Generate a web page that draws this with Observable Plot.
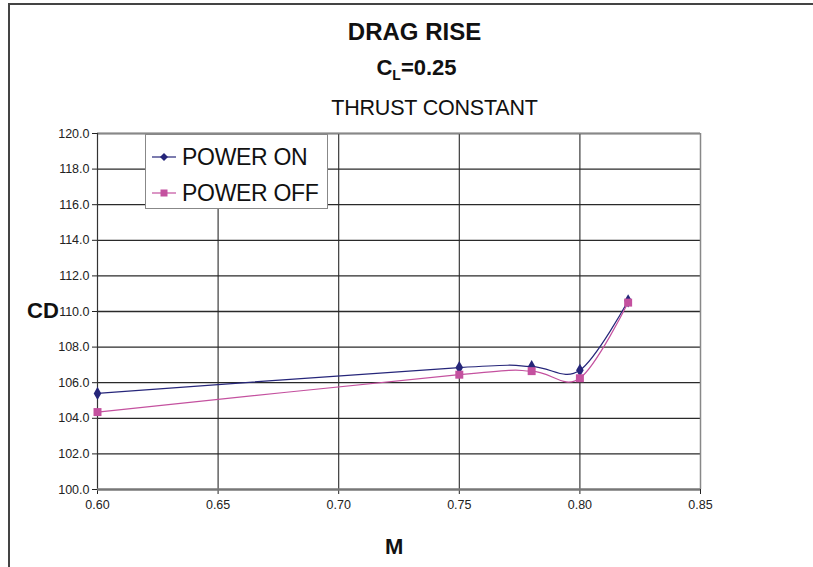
<!DOCTYPE html>
<html>
<head>
<meta charset="utf-8">
<script src="https://cdn.jsdelivr.net/npm/d3@7"></script>
<script src="https://cdn.jsdelivr.net/npm/@observablehq/plot@0.6"></script>
<style>
  html, body { margin: 0; padding: 0; background: #fff; }
  body { width: 813px; height: 567px; position: relative; overflow: hidden;
         font-family: "Liberation Sans", Arial, sans-serif; }
  #frame { position: absolute; left: 8px; top: 3px; width: 900px; height: 700px;
           border-left: 2px solid #444; border-top: 2px solid #444; }
  .t { position: absolute; left: 0; width: 813px; text-align: center; color: #111; line-height: 1; }
  #t1 { top: 20px; left: 8px; font-size: 24px; font-weight: bold; }
  #t2 { top: 57px; left: 10px; font-size: 22px; font-weight: bold; }
  #t3 { top: 98px; left: 28px; font-size: 21.5px; letter-spacing: -0.2px; }
  #ylab { position: absolute; left: 27px; top: 300px; font-size: 22px; font-weight: bold; color: #111; line-height: 1; }
  #xlab { position: absolute; left: 385px; top: 536px; font-size: 22px; font-weight: bold; color: #111; line-height: 1; }
  #chart { position: absolute; left: 0; top: 0; }
  #legend { position: absolute; left: 145px; top: 134px; width: 183px; height: 75px;
            background: #fff; border: 1px solid #888; box-sizing: border-box; }
  .li { position: absolute; left: 6px; height: 30px; display: flex; align-items: center;
        font-size: 23px; color: #111; letter-spacing: -0.3px; }
  .li svg { margin-right: 6px; }
</style>
</head>
<body>
<div id="frame"></div>
<div id="chart"></div>
<div class="t" id="t1">DRAG RISE</div>
<div class="t" id="t2">C<sub style="font-size:14px;vertical-align:-5px">L</sub>=0.25</div>
<div class="t" id="t3">THRUST CONSTANT</div>
<div id="ylab">CD</div>
<div id="xlab">M</div>
<div id="legend"></div>
<script>
// Data
const mach = [0.60, 0.75, 0.78, 0.80, 0.82];
const cdPowerOn = [105.4, 106.85, 106.9, 106.7, 110.6];
const cdPowerOff = [104.35, 106.45, 106.65, 106.25, 110.5];
const seriesNames = ["POWER ON", "POWER OFF"];
const seriesColors = ["#26267a", "#c4519f"];
const xTicks = [0.60, 0.65, 0.70, 0.75, 0.80, 0.85];
const yTicks = [100, 102, 104, 106, 108, 110, 112, 114, 116, 118, 120];

const rows = [];
mach.forEach((m, i) => rows.push({M: m, CD: cdPowerOn[i], s: seriesNames[0]}));
mach.forEach((m, i) => rows.push({M: m, CD: cdPowerOff[i], s: seriesNames[1]}));
const on = rows.filter(d => d.s === seriesNames[0]);
const off = rows.filter(d => d.s === seriesNames[1]);

const plot = Plot.plot({
  width: 813,
  height: 567,
  marginLeft: 97,
  marginRight: 113,
  marginTop: 133,
  marginBottom: 78,
  style: {fontFamily: '"Liberation Sans", Arial, sans-serif', fontSize: "12.5px", color: "#222", background: "transparent"},
  x: {domain: [0.60, 0.85], ticks: xTicks, tickFormat: d => d.toFixed(2), tickSize: 5, tickPadding: 6, label: null},
  y: {domain: [100, 120], ticks: yTicks, tickFormat: d => d.toFixed(1), tickSize: 5, tickPadding: 3, label: null},
  color: {domain: seriesNames, range: seriesColors},
  marks: [
    Plot.ruleY(yTicks.filter(t => t > 100), {stroke: "#2a2a2a", strokeWidth: 1.3}),
    Plot.ruleX(xTicks.filter(t => t > 0.60 && t < 0.85), {stroke: "#2a2a2a", strokeWidth: 1.1}),
    Plot.ruleX([0.85], {stroke: "#888", strokeWidth: 1.5}),
    Plot.ruleY([120], {stroke: "#888", strokeWidth: 1.5}),
    Plot.ruleX([0.60], {stroke: "#333", strokeWidth: 1.2}),
    Plot.ruleY([100], {stroke: "#777", strokeWidth: 2.5}),
    Plot.line(on, {x: "M", y: "CD", stroke: seriesColors[0], strokeWidth: 1.2, curve: "cardinal"}),
    Plot.line(off, {x: "M", y: "CD", stroke: seriesColors[1], strokeWidth: 1.2, curve: "cardinal"}),
    Plot.dot(on, {x: "M", y: "CD", fill: seriesColors[0], symbol: "diamond", r: 4}),
    Plot.dot(off, {x: "M", y: "CD", fill: seriesColors[1], symbol: "square", r: 4.5})
  ]
});
document.getElementById("chart").appendChild(plot);

// Legend
const legend = document.getElementById("legend");
seriesNames.forEach((name, i) => {
  const item = document.createElement("div");
  item.className = "li";
  item.style.top = (i === 0 ? 7 : 43) + "px";
  const sym = i === 0
    ? `<polygon points="12,1 16,5 12,9 8,5" fill="${seriesColors[i]}"/>`
    : `<rect x="8.5" y="1.5" width="7" height="7" fill="${seriesColors[i]}"/>`;
  item.innerHTML = `<svg width="24" height="10"><line x1="0" x2="24" y1="5" y2="5" stroke="${seriesColors[i]}" stroke-width="1.2"/>${sym}</svg><span>${name}</span>`;
  legend.appendChild(item);
});
</script>
</body>
</html>
